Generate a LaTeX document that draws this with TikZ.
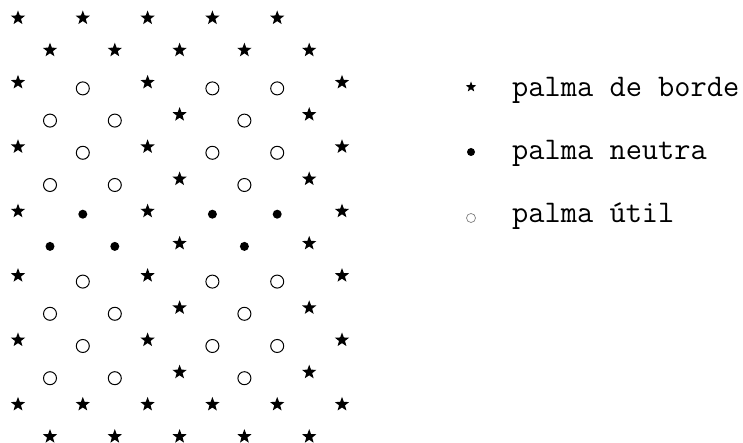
\documentclass[tikz,border=0pt]{standalone}
\usepackage{tikz}
\usetikzlibrary{shapes.geometric}

\tikzset{
  borde/.style={star,star points=5,star point ratio=2.4,fill=black,inner sep=0pt,minimum size=15pt},
  util/.style={circle,draw,line width=1pt,inner sep=0pt,minimum size=13pt,yshift=-6pt},
  neutra/.style={circle,fill=black,inner sep=0pt,minimum size=9pt,yshift=-3pt},
  leyenda/.style={anchor=base west,inner sep=0pt,font=\ttfamily\fontsize{31.5}{31.5}\selectfont},
}

\begin{document}
\begin{tikzpicture}[x=1pt,y=1pt]
    \useasboundingbox (0,0) rectangle (743,443);
    % plantacion: filas de palmas
    \foreach \r/\fila in {1/{borde,borde,borde,borde,borde},
                          2/{borde,borde,borde,borde,borde},
                          3/{borde,util,borde,util,util,borde},
                          4/{util,util,borde,util,borde},
                          5/{borde,util,borde,util,util,borde},
                          6/{util,util,borde,util,borde},
                          7/{borde,neutra,borde,neutra,neutra,borde},
                          8/{neutra,neutra,borde,neutra,borde},
                          9/{borde,util,borde,util,util,borde},
                          10/{util,util,borde,util,borde},
                          11/{borde,util,borde,util,util,borde},
                          12/{util,util,borde,util,borde},
                          13/{borde,borde,borde,borde,borde,borde},
                          14/{borde,borde,borde,borde,borde}} {
      \pgfmathsetmacro{\xo}{isodd(\r) ? 18 : 50}
      \foreach \t [count=\c] in \fila
        \node[\t] (p-\r-\c) at ({\xo+64.8*(\c-1)},{425-32.2*(\r-1)}) {};
    }
    % leyenda (util y neutra ya llevan su yshift)
    \node[borde,minimum size=11pt] (sb) at (471,356) {};
    \node[leyenda] (lb) at (512,346) {palma de borde};
    \node[neutra,minimum size=8pt] (sn) at (471,294) {};
    \node[leyenda] (ln) at (512,283) {palma neutra};
    \node[util,draw=gray,line width=0.7pt,minimum size=9pt] (su) at (471,231) {};
    \node[leyenda] (lu) at (512,220) {palma útil};
\end{tikzpicture}
\end{document}
